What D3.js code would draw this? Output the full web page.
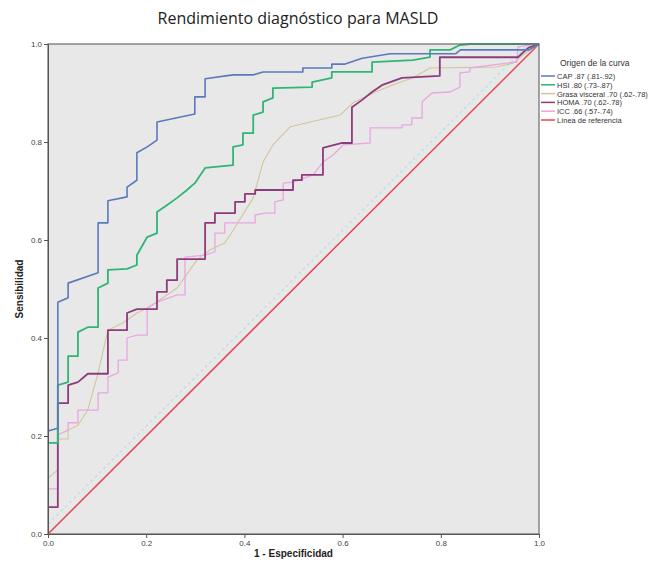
<!DOCTYPE html>
<html>
<head>
<meta charset="utf-8">
<script src="https://cdn.jsdelivr.net/npm/d3@7"></script>
<style>
  body { margin: 0; background: #fff; }
  svg { display: block; }
</style>
</head>
<body>
<div id="chart"></div>
<script>
// ROC curves: [1 - especificidad, sensibilidad]
const capCurve = [[0,0.21],[0.02,0.216],[0.02,0.473],[0.041,0.482],[0.041,0.512],[0.102,0.533],[0.102,0.635],[0.122,0.635],[0.122,0.68],[0.161,0.688],[0.161,0.708],[0.181,0.722],[0.181,0.778],[0.202,0.79],[0.222,0.804],[0.222,0.841],[0.299,0.857],[0.299,0.892],[0.32,0.892],[0.32,0.929],[0.377,0.937],[0.418,0.937],[0.438,0.943],[0.519,0.943],[0.519,0.951],[0.578,0.951],[0.578,0.959],[0.605,0.959],[0.64,0.971],[0.697,0.98],[0.83,0.98],[0.84,0.988],[0.98,0.988],[1,1]];
const hsiCurve = [[0,0.186],[0.02,0.186],[0.02,0.304],[0.041,0.31],[0.041,0.363],[0.061,0.363],[0.061,0.412],[0.081,0.422],[0.102,0.422],[0.102,0.502],[0.122,0.512],[0.122,0.539],[0.161,0.541],[0.181,0.549],[0.181,0.569],[0.202,0.606],[0.222,0.614],[0.222,0.657],[0.242,0.671],[0.263,0.686],[0.283,0.702],[0.299,0.716],[0.32,0.747],[0.377,0.753],[0.377,0.79],[0.397,0.794],[0.397,0.818],[0.418,0.818],[0.418,0.855],[0.438,0.861],[0.438,0.882],[0.458,0.89],[0.458,0.91],[0.538,0.912],[0.538,0.922],[0.578,0.931],[0.578,0.943],[0.66,0.943],[0.66,0.963],[0.743,0.967],[0.778,0.973],[0.778,0.988],[0.819,0.988],[0.839,0.998],[0.86,1],[1,1]];
const grasaCurve = [[0,0.114],[0.02,0.131],[0.02,0.194],[0.041,0.194],[0.041,0.212],[0.061,0.222],[0.081,0.253],[0.102,0.329],[0.122,0.416],[0.153,0.431],[0.181,0.451],[0.202,0.461],[0.228,0.478],[0.263,0.502],[0.303,0.559],[0.33,0.58],[0.36,0.594],[0.377,0.62],[0.418,0.686],[0.438,0.759],[0.458,0.794],[0.493,0.831],[0.595,0.855],[0.621,0.88],[0.662,0.9],[0.711,0.92],[0.743,0.931],[0.778,0.951],[0.914,0.953],[0.947,0.961],[0.976,0.984],[1,1]];
const homaCurve = [[0,0.055],[0.02,0.055],[0.02,0.267],[0.041,0.267],[0.041,0.304],[0.061,0.31],[0.081,0.327],[0.122,0.327],[0.122,0.416],[0.161,0.416],[0.161,0.451],[0.181,0.459],[0.222,0.459],[0.222,0.494],[0.242,0.494],[0.242,0.518],[0.263,0.518],[0.263,0.561],[0.32,0.561],[0.32,0.635],[0.34,0.635],[0.34,0.655],[0.381,0.655],[0.381,0.678],[0.401,0.678],[0.401,0.694],[0.422,0.694],[0.422,0.702],[0.499,0.702],[0.499,0.722],[0.517,0.722],[0.517,0.733],[0.56,0.733],[0.56,0.788],[0.599,0.798],[0.619,0.798],[0.619,0.871],[0.64,0.886],[0.66,0.902],[0.68,0.916],[0.721,0.931],[0.798,0.935],[0.798,0.973],[0.957,0.973],[0.978,0.992],[1,1]];
const iccCurve = [[0,0.092],[0.02,0.092],[0.02,0.202],[0.041,0.212],[0.041,0.227],[0.061,0.227],[0.061,0.253],[0.102,0.253],[0.102,0.288],[0.122,0.288],[0.122,0.32],[0.143,0.329],[0.143,0.355],[0.161,0.355],[0.161,0.4],[0.181,0.406],[0.202,0.406],[0.202,0.461],[0.222,0.473],[0.263,0.488],[0.279,0.488],[0.279,0.565],[0.32,0.569],[0.34,0.576],[0.34,0.614],[0.36,0.614],[0.36,0.635],[0.422,0.635],[0.422,0.651],[0.442,0.655],[0.462,0.655],[0.462,0.678],[0.479,0.682],[0.479,0.716],[0.499,0.718],[0.54,0.733],[0.56,0.759],[0.58,0.773],[0.601,0.794],[0.656,0.798],[0.656,0.829],[0.721,0.829],[0.721,0.835],[0.741,0.835],[0.741,0.849],[0.762,0.849],[0.762,0.882],[0.782,0.9],[0.819,0.902],[0.839,0.912],[0.839,0.941],[0.859,0.943],[0.859,0.951],[0.935,0.961],[0.955,0.963],[0.957,0.994],[1,1]];
const refLine = [[0,0],[1,1]];
const refGhost = [[0,0.02],[0.98,1]];

const legendLabels = ["CAP .87 (.81-.92)", "HSI .80 (.73-.87)", "Grasa visceral .70 (.62-.78)", "HOMA .70 (.62-.78)", "ICC .66 (.57-.74)", "Línea de referencia"];
const seriesColors = ["#5a79bd", "#2fb574", "#d3c59a", "#8c3b7c", "#eaa6df", "#e8464e"];
const tickValues = [0, 0.2, 0.4, 0.6, 0.8, 1.0];

const series = [
    { data: capCurve, width: 1.6 },
    { data: hsiCurve, width: 1.8 },
    { data: grasaCurve, width: 1.1 },
    { data: homaCurve, width: 1.8 },
    { data: iccCurve, width: 1.3 },
    { data: refLine, width: 1.5 }
];

const W = 654, H = 563;
const margin = { top: 44, left: 48, right: 115, bottom: 29 };
const width = W - margin.left - margin.right;
const height = H - margin.top - margin.bottom;

const svg = d3.select("#chart").append("svg")
    .attr("width", W)
    .attr("height", H);

// Title
svg.append("text")
    .attr("x", 298)
    .attr("y", 24)
    .attr("text-anchor", "middle")
    .style("font-family", "'Open Sans', sans-serif")
    .style("font-size", "16px")
    .style("fill", "#222")
    .text("Rendimiento diagnóstico para MASLD");

const g = svg.append("g")
    .attr("transform", `translate(${margin.left},${margin.top})`);

const x = d3.scaleLinear().domain([0, 1]).range([0, width]);
const y = d3.scaleLinear().domain([0, 1]).range([height, 0]);

// plot background
g.append("rect")
    .attr("width", width)
    .attr("height", height)
    .attr("fill", "#e9e8e9");

const line = d3.line()
    .x(d => x(d[0]))
    .y(d => y(d[1]));

// faint ghost next to the reference line
g.append("path")
    .attr("d", line(refGhost))
    .attr("fill", "none")
    .attr("stroke", "#9fe0e4")
    .attr("stroke-width", 1.5)
    .attr("stroke-dasharray", "3,3")
    .attr("opacity", 0.6);

// curves, reference line drawn first so it sits under the others
const order = [5, 2, 4, 3, 1, 0];
order.forEach(i => {
    g.append("path")
        .attr("d", line(series[i].data))
        .attr("fill", "none")
        .attr("stroke", seriesColors[i])
        .attr("stroke-width", series[i].width)
        .attr("stroke-linejoin", "round");
});

// frame
g.append("rect")
    .attr("width", width)
    .attr("height", height)
    .attr("fill", "none")
    .attr("stroke", "#6b6b6b")
    .attr("stroke-width", 1.2);

// axes
const fmt = d3.format(".1f");
const xAxis = g.append("g")
    .attr("transform", `translate(0,${height})`)
    .call(d3.axisBottom(x).tickValues(tickValues).tickFormat(fmt).tickSizeOuter(0).tickSize(4).tickPadding(2));
const yAxis = g.append("g")
    .call(d3.axisLeft(y).tickValues(tickValues).tickFormat(fmt).tickSizeOuter(0).tickSize(4).tickPadding(2));

[xAxis, yAxis].forEach(a => {
    a.select(".domain").attr("stroke", "#555");
    a.selectAll(".tick line").attr("stroke", "#555");
    a.selectAll("text")
        .style("font-family", "'Liberation Sans', Arial, sans-serif")
        .style("font-size", "8px")
        .style("fill", "#444");
});

// axis titles
svg.append("text")
    .attr("x", margin.left + width / 2)
    .attr("y", 557)
    .attr("text-anchor", "middle")
    .style("font-family", "'Liberation Sans', Arial, sans-serif")
    .style("font-weight", "bold")
    .style("font-size", "10px")
    .style("fill", "#222")
    .text("1 - Especificidad");

svg.append("text")
    .attr("transform", `translate(23,${margin.top + height / 2}) rotate(-90)`)
    .attr("text-anchor", "middle")
    .style("font-family", "'Liberation Sans', Arial, sans-serif")
    .style("font-weight", "bold")
    .style("font-size", "10px")
    .style("fill", "#222")
    .text("Sensibilidad");

// legend
const legend = svg.append("g")
    .attr("transform", `translate(${margin.left + width + 2},0)`);

legend.append("text")
    .attr("x", 19)
    .attr("y", 66)
    .style("font-family", "'Liberation Sans', Arial, sans-serif")
    .style("font-size", "8.5px")
    .style("fill", "#333")
    .text("Origen de la curva");

const items = legend.selectAll(".item")
    .data(legendLabels)
    .enter()
    .append("g")
    .attr("class", "item")
    .attr("transform", (d, i) => `translate(0,${76 + i * 8.8})`);

items.append("line")
    .attr("x1", 0)
    .attr("x2", 14)
    .attr("stroke", (d, i) => seriesColors[i])
    .attr("stroke-width", 1.5);

items.append("text")
    .attr("x", 16)
    .attr("y", 3)
    .style("font-family", "'Liberation Sans', Arial, sans-serif")
    .style("font-size", "7.5px")
    .style("fill", "#333")
    .text(d => d);
</script>
</body>
</html>
